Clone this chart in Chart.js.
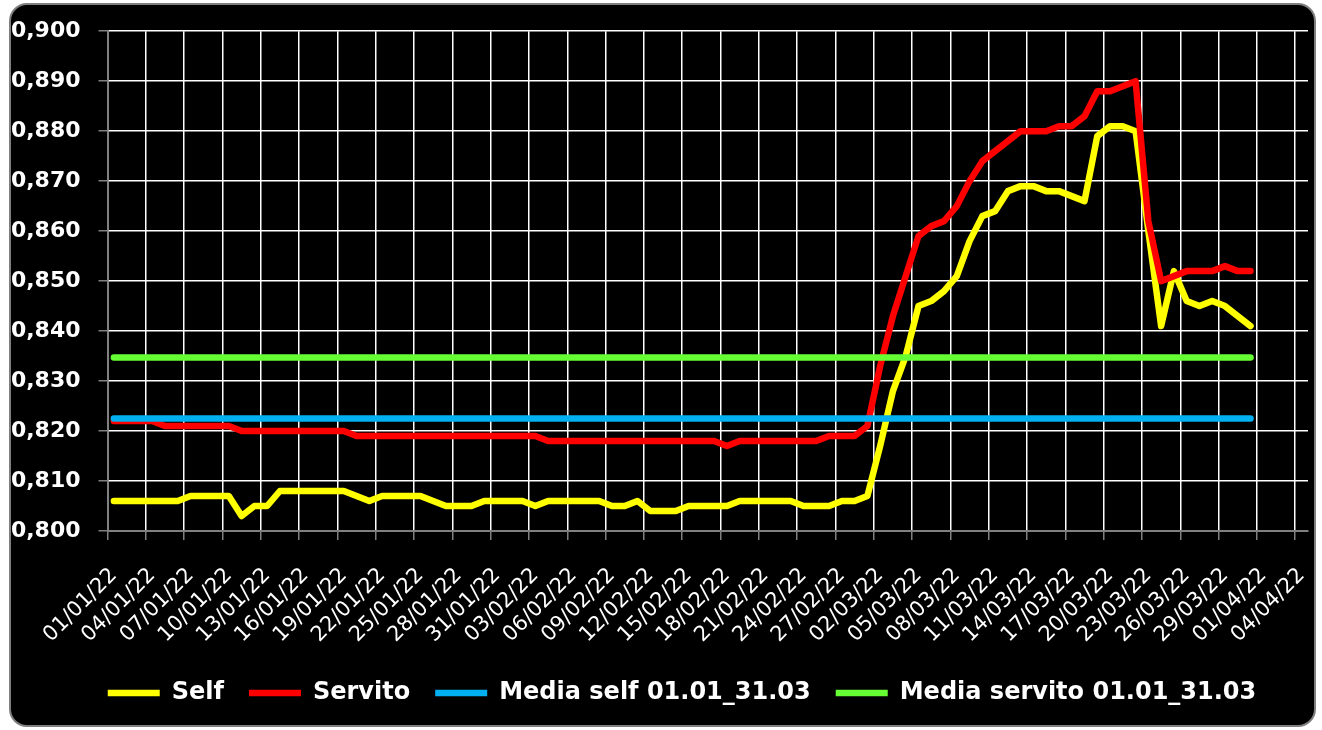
<!DOCTYPE html>
<html>
<head>
<meta charset="utf-8">
<script src="https://cdn.jsdelivr.net/npm/chart.js@4.4.1/dist/chart.umd.min.js"></script>
<style>
  html, body { margin: 0; padding: 0; background: #ffffff; }
  #frame {
    position: absolute; left: 9px; top: 3px; width: 1307px; height: 724px;
    box-sizing: border-box; background: #000000;
    border: 2px solid #7f7f7f; border-radius: 18px;
  }
  #chart { position: absolute; left: 0; top: 0; }
</style>
</head>
<body>
<div id="frame"></div>
<canvas id="chart" width="1322" height="730"></canvas>
<script>
  const DATES = [
    "01/01/22", "02/01/22", "03/01/22", "04/01/22", "05/01/22", "06/01/22", "07/01/22", "08/01/22", "09/01/22", "10/01/22",
    "11/01/22", "12/01/22", "13/01/22", "14/01/22", "15/01/22", "16/01/22", "17/01/22", "18/01/22", "19/01/22", "20/01/22",
    "21/01/22", "22/01/22", "23/01/22", "24/01/22", "25/01/22", "26/01/22", "27/01/22", "28/01/22", "29/01/22", "30/01/22",
    "31/01/22", "01/02/22", "02/02/22", "03/02/22", "04/02/22", "05/02/22", "06/02/22", "07/02/22", "08/02/22", "09/02/22",
    "10/02/22", "11/02/22", "12/02/22", "13/02/22", "14/02/22", "15/02/22", "16/02/22", "17/02/22", "18/02/22", "19/02/22",
    "20/02/22", "21/02/22", "22/02/22", "23/02/22", "24/02/22", "25/02/22", "26/02/22", "27/02/22", "28/02/22", "01/03/22",
    "02/03/22", "03/03/22", "04/03/22", "05/03/22", "06/03/22", "07/03/22", "08/03/22", "09/03/22", "10/03/22", "11/03/22",
    "12/03/22", "13/03/22", "14/03/22", "15/03/22", "16/03/22", "17/03/22", "18/03/22", "19/03/22", "20/03/22", "21/03/22",
    "22/03/22", "23/03/22", "24/03/22", "25/03/22", "26/03/22", "27/03/22", "28/03/22", "29/03/22", "30/03/22", "31/03/22",
    "01/04/22", "02/04/22", "03/04/22", "04/04/22"
  ];

  const SELF = [
    0.806, 0.806, 0.806, 0.806, 0.806, 0.806, 0.807, 0.807, 0.807, 0.807,
    0.803, 0.805, 0.805, 0.808, 0.808, 0.808, 0.808, 0.808, 0.808, 0.807,
    0.806, 0.807, 0.807, 0.807, 0.807, 0.806, 0.805, 0.805, 0.805, 0.806,
    0.806, 0.806, 0.806, 0.805, 0.806, 0.806, 0.806, 0.806, 0.806, 0.805,
    0.805, 0.806, 0.804, 0.804, 0.804, 0.805, 0.805, 0.805, 0.805, 0.806,
    0.806, 0.806, 0.806, 0.806, 0.805, 0.805, 0.805, 0.806, 0.806, 0.807,
    0.817, 0.828, 0.835, 0.845, 0.846, 0.848, 0.851, 0.858, 0.863, 0.864,
    0.868, 0.869, 0.869, 0.868, 0.868, 0.867, 0.866, 0.879, 0.881, 0.881,
    0.880, 0.860, 0.841, 0.852, 0.846, 0.845, 0.846, 0.845, 0.843, 0.841
  ];

  const SERVITO = [
    0.822, 0.822, 0.822, 0.822, 0.821, 0.821, 0.821, 0.821, 0.821, 0.821,
    0.820, 0.820, 0.820, 0.820, 0.820, 0.820, 0.820, 0.820, 0.820, 0.819,
    0.819, 0.819, 0.819, 0.819, 0.819, 0.819, 0.819, 0.819, 0.819, 0.819,
    0.819, 0.819, 0.819, 0.819, 0.818, 0.818, 0.818, 0.818, 0.818, 0.818,
    0.818, 0.818, 0.818, 0.818, 0.818, 0.818, 0.818, 0.818, 0.817, 0.818,
    0.818, 0.818, 0.818, 0.818, 0.818, 0.818, 0.819, 0.819, 0.819, 0.821,
    0.833, 0.843, 0.851, 0.859, 0.861, 0.862, 0.865, 0.870, 0.874, 0.876,
    0.878, 0.880, 0.880, 0.880, 0.881, 0.881, 0.883, 0.888, 0.888, 0.889,
    0.890, 0.862, 0.850, 0.851, 0.852, 0.852, 0.852, 0.853, 0.852, 0.852
  ];

  // averages 01.01 - 31.03, drawn flat over the same days
  const MEDIA_SELF = 0.8225;
  const MEDIA_SERVITO = 0.8347;

  const Y_MIN = 0.8;
  const Y_MAX = 0.9;
  const Y_STEP = 0.01;

  const LABEL_EVERY = 3;
  const LEGEND_SHIFT = 22;

  function lineSet(label, data, color) {
    return {
      label,
      data,
      borderColor: color,
      backgroundColor: color,
      borderWidth: 6.5,
      borderCapStyle: "round",
      borderJoinStyle: "round",
      pointRadius: 0,
      pointHoverRadius: 0,
      tension: 0,
      fill: false,
    };
  }

  // later series in the legend sit on top, so the list runs backwards
  const datasets = [
    lineSet("Media servito 01.01_31.03", SELF.map(() => MEDIA_SERVITO), "#66ff33"),
    lineSet("Media self 01.01_31.03", SELF.map(() => MEDIA_SELF), "#00b0f0"),
    lineSet("Servito", SERVITO, "#ff0000"),
    lineSet("Self", SELF, "#ffff00"),
  ];

  const onMajor = (ctx) => typeof ctx.index === "number" && ctx.index % LABEL_EVERY === 0;

  // the spreadsheet legend sits a bit right of the page centre
  const nudgeLegend = {
    id: "nudgeLegend",
    afterLayout(chart) {
      if (chart.legend) {
        chart.legend.left += LEGEND_SHIFT;
        chart.legend.right += LEGEND_SHIFT;
      }
    },
  };

  new Chart(document.getElementById("chart"), {
    type: "line",
    data: { labels: DATES, datasets },
    plugins: [nudgeLegend],
    options: {
      responsive: false,
      animation: false,
      layout: { padding: { left: 12, right: 14, top: 27, bottom: 15 } },
      plugins: {
        tooltip: { enabled: false },
        legend: {
          position: "bottom",
          reverse: true,
          labels: {
            color: "#ffffff",
            font: { family: "DejaVu Sans", size: 24, weight: "bold" },
            usePointStyle: true,
            pointStyle: "line",
            pointStyleWidth: 52,
            padding: 25,
          },
        },
      },
      scales: {
        x: {
          offset: true,
          afterFit: (scale) => {
            scale.height = 125;
            scale.paddingLeft = 0;
            scale.paddingRight = 0;
          },
          grid: {
            offset: true,
            color: (ctx) => (onMajor(ctx) ? "#ffffff" : "transparent"),
            tickColor: (ctx) => (onMajor(ctx) ? "#808080" : "transparent"),
            lineWidth: 1.5,
            tickLength: 9,
          },
          border: { color: "#808080", width: 2 },
          ticks: {
            autoSkip: false,
            minRotation: 45,
            maxRotation: 45,
            padding: 23,
            color: "#ffffff",
            font: { family: "DejaVu Sans", size: 21 },
            callback: function (value, index) {
              return index % LABEL_EVERY === 0 ? this.getLabelForValue(value) : "";
            },
          },
        },
        y: {
          min: Y_MIN,
          max: Y_MAX,
          afterFit: (scale) => { scale.width = 95.5; },
          grid: {
            color: "#ffffff",
            tickColor: "#808080",
            lineWidth: 1.5,
            tickLength: 9,
          },
          border: { color: "#808080", width: 1.5 },
          ticks: {
            stepSize: Y_STEP,
            padding: 18,
            color: "#ffffff",
            font: { family: "DejaVu Sans", size: 22, weight: "bold" },
            callback: (value) => value.toFixed(3).replace(".", ","),
          },
        },
      },
    },
  });
</script>
</body>
</html>
